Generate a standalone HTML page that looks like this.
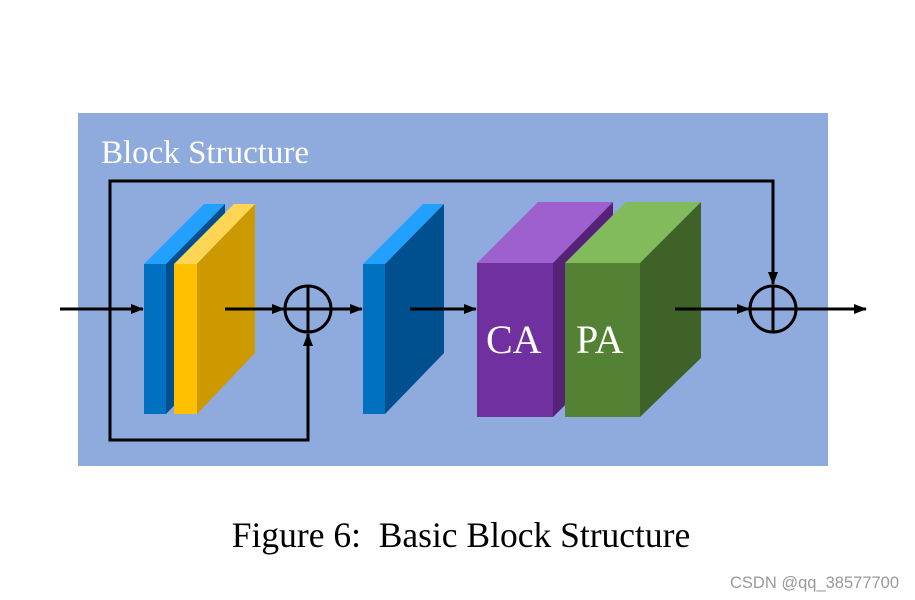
<!DOCTYPE html>
<html><head><style>body{margin:0;background:#fff}svg{display:block}</style></head><body>
<svg width="915" height="600" xmlns="http://www.w3.org/2000/svg" font-family="Liberation Serif, serif">
<defs><marker id="a" markerWidth="13" markerHeight="10" refX="12" refY="5" orient="auto" markerUnits="userSpaceOnUse"><path d="M0,0L13,5L0,10z" fill="#000"/></marker></defs>
<rect x="78" y="113" width="750" height="353" fill="#8faadc"/>
<text x="101" y="163" font-size="33" fill="#fff">Block Structure</text>
<polyline points="110,309 110,181 773,181 773,284" fill="none" stroke="#000" stroke-width="3" marker-end="url(#a)"/>
<polyline points="110,300 110,440 308,440 308,334" fill="none" stroke="#000" stroke-width="3" marker-end="url(#a)"/>
<line x1="60" y1="309" x2="143" y2="309" stroke="#000" stroke-width="3" marker-end="url(#a)"/>
<polygon points="144,264 204,204 225,204 166,264" fill="#21a0ff"/>
<polygon points="166,264 225,204 225,353 166,414" fill="#005090"/>
<rect x="144" y="264" width="22" height="150" fill="#0070c0"/>
<polygon points="174,264 234,204 255,204 197,264" fill="#ffd555"/>
<polygon points="197,264 255,204 255,353 197,414" fill="#cc9a00"/>
<rect x="174" y="264" width="23" height="150" fill="#ffc000"/>
<line x1="225" y1="309" x2="284" y2="309" stroke="#000" stroke-width="3" marker-end="url(#a)"/>
<circle cx="308" cy="309" r="23" fill="none" stroke="#000" stroke-width="3"/>
<line x1="285" y1="309" x2="331" y2="309" stroke="#000" stroke-width="3"/>
<line x1="308" y1="286" x2="308" y2="332" stroke="#000" stroke-width="3"/>
<line x1="331" y1="309" x2="362" y2="309" stroke="#000" stroke-width="3" marker-end="url(#a)"/>
<polygon points="363,264 423,204 444,204 385,264" fill="#21a0ff"/>
<polygon points="385,264 444,204 444,353 385,414" fill="#005090"/>
<rect x="363" y="264" width="22" height="150" fill="#0070c0"/>
<line x1="410" y1="309" x2="476" y2="309" stroke="#000" stroke-width="3" marker-end="url(#a)"/>
<polygon points="477,263 538,202 613,202 553,263" fill="#9e5fcf"/>
<polygon points="553,263 613,202 613,358 553,417" fill="#552277"/>
<rect x="477" y="263" width="76" height="154" fill="#7030a0"/>
<polygon points="565,263 626,202 701,202 640,263" fill="#82bb5b"/>
<polygon points="640,263 701,202 701,358 640,417" fill="#3f6228"/>
<rect x="565" y="263" width="75" height="154" fill="#548235"/>
<text x="486" y="353" font-size="40" fill="#fff">CA</text>
<text x="576" y="353" font-size="40" fill="#fff">PA</text>
<line x1="675" y1="309" x2="749" y2="309" stroke="#000" stroke-width="3" marker-end="url(#a)"/>
<circle cx="773" cy="309" r="23" fill="none" stroke="#000" stroke-width="3"/>
<line x1="750" y1="309" x2="796" y2="309" stroke="#000" stroke-width="3"/>
<line x1="773" y1="286" x2="773" y2="332" stroke="#000" stroke-width="3"/>
<line x1="796" y1="309" x2="866" y2="309" stroke="#000" stroke-width="3" marker-end="url(#a)"/>
<text x="461" y="547" font-size="35.5" fill="#000" text-anchor="middle" xml:space="preserve">Figure 6:  Basic Block Structure</text>
<text x="730" y="588" font-size="16.5" fill="#999" font-family="Liberation Sans, sans-serif">CSDN @qq_38577700</text>
</svg>
</body></html>
